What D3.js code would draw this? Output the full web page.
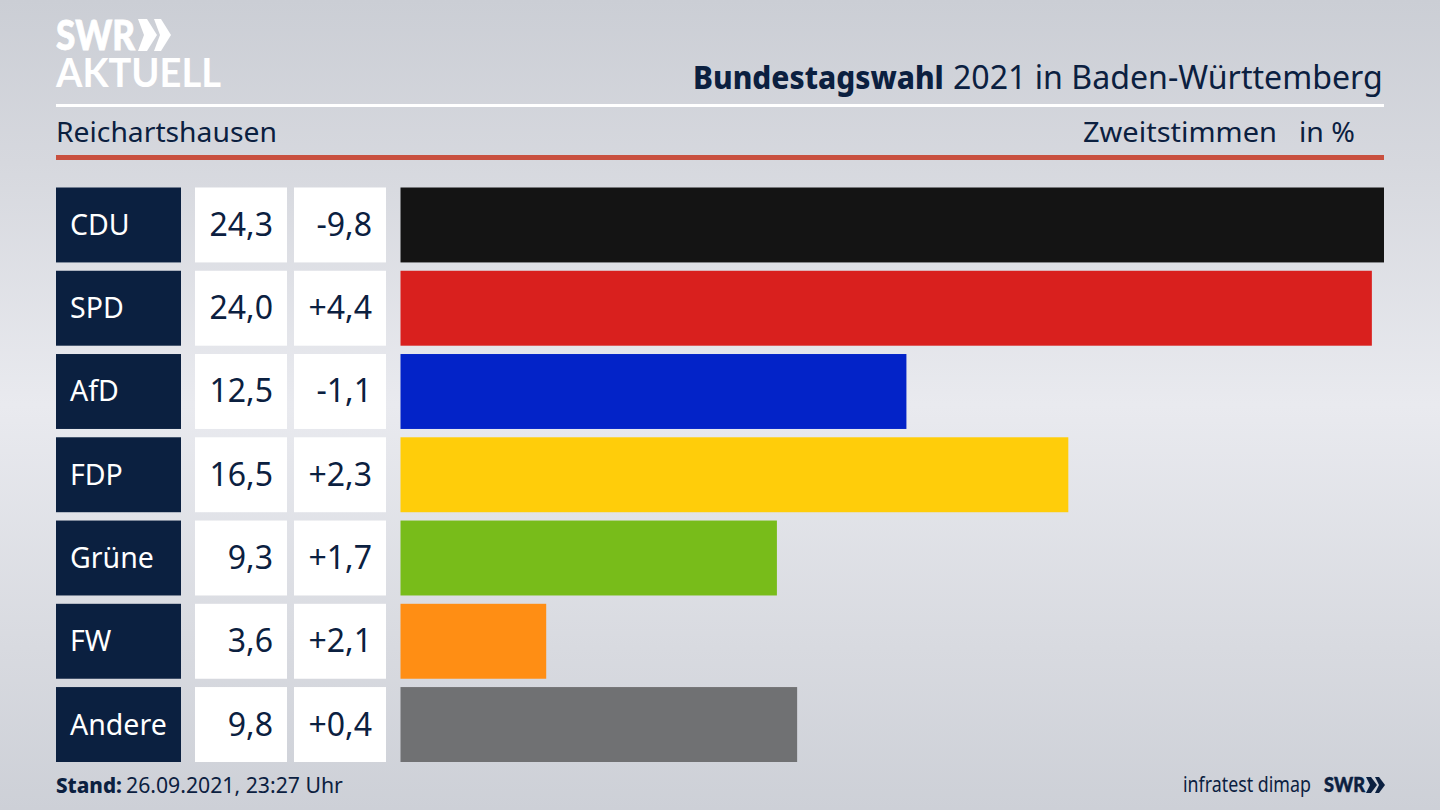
<!DOCTYPE html>
<html>
<head>
<meta charset="utf-8">
<script src="https://cdn.jsdelivr.net/npm/d3@7"></script>
<style>
  html, body { margin: 0; padding: 0; background: #d8dade; }
  svg { display: block; }
  text { font-family: "Noto Sans", sans-serif; }
</style>
</head>
<body>
<svg width="1440" height="810"></svg>
<script>
// DATA
const parties = ["CDU", "SPD", "AfD", "FDP", "Grüne", "FW", "Andere"];
const shares = [24.3, 24.0, 12.5, 16.5, 9.3, 3.6, 9.8];
const changes = ["-9,8", "+4,4", "-1,1", "+2,3", "+1,7", "+2,1", "+0,4"];
const colors = ["#141414", "#d9201e", "#0323c8", "#ffcd0a", "#78bc1a", "#ff8e14", "#707173"];

const svg = d3.select("svg");
const width = 1440;
const height = 810;
const navy = "#0b2040";
const formatShare = d => d.toFixed(1).replace(".", ",");

// CONSTANTS
const left = 56;
const right = 1384;
const barLeft = 400.5;

// SCALES
const xScale = d3.scaleLinear().domain([0, 24.3]).range([barLeft, right]);
const yScale = d3.scaleBand().domain(parties).range([187.5, 762]).paddingInner(0.1).paddingOuter(0);

// squeezes a text to the wanted width, the font here is wider than the original one
function fitText(str, x, y, w, size, fill, weight = 400, family = "Noto Sans") {
  const t = svg.append("text")
    .attr("font-size", size).attr("font-weight", weight).attr("fill", fill)
    .style("font-family", family).text(str);
  const k = w / t.node().getComputedTextLength();
  t.attr("transform", `translate(${x}, ${y}) scale(${k}, 1)`);
  return t;
}

// Background
const defs = svg.append("defs");
const vGrad = defs.append("linearGradient").attr("id", "bg").attr("x1", 0).attr("y1", 0).attr("x2", 0).attr("y2", 1);
[[0, "#cbced5"], [0.2, "#d6d8de"], [0.5, "#e9eaef"], [0.8, "#d8dae0"], [1, "#cdd0d7"]].forEach(s =>
  vGrad.append("stop").attr("offset", s[0]).attr("stop-color", s[1]));
svg.append("rect").attr("width", width).attr("height", height).attr("fill", "url(#bg)");

// Rules under the header
svg.append("rect").attr("x", left).attr("y", 104).attr("width", right - left).attr("height", 3).attr("fill", "#fff");
svg.append("rect").attr("x", left).attr("y", 155).attr("width", right - left).attr("height", 5).attr("fill", "#c9503f");

// Logo
fitText("SWR", 56, 50, 79, 41, "#fff", 900, "Lato").attr("stroke", "#fff").attr("stroke-width", 0.8);
svg.append("path").attr("fill", "#fff")
  .attr("d", "M138 19h9l10 16-10 16h-9l6-16z M154 19h7l10 16-10 16h-7l6-16z");
fitText("AKTUELL", 56, 87, 165, 40, "#fff", 700, "Lato");

// Header text
fitText("Bundestagswahl", 693, 89, 251, 32, navy, 800);
fitText("2021 in Baden-Württemberg", 953, 89, 430, 32, navy);
fitText("Reichartshausen", 56, 142, 221, 28, navy);
fitText("Zweitstimmen", 1083, 142, 194, 28, navy);
fitText("in %", 1299, 142, 56, 28, navy);

// Rows
const rows = svg.selectAll("g.row").data(parties).join("g").attr("class", "row")
  .attr("transform", d => `translate(0, ${yScale(d)})`);
const band = yScale.bandwidth();

rows.append("rect").attr("x", left).attr("width", 125).attr("height", band).attr("fill", navy);
rows.append("rect").attr("x", 195).attr("width", 92).attr("height", band).attr("fill", "#fff");
rows.append("rect").attr("x", 294).attr("width", 92).attr("height", band).attr("fill", "#fff");

rows.append("text").attr("x", 70).attr("y", band / 2 + 10).attr("font-size", 28.5).attr("fill", "#fff")
  .text(d => d);
rows.append("text").attr("x", 273).attr("y", band / 2 + 11).attr("font-size", 32).attr("fill", navy)
  .attr("text-anchor", "end").text((d, i) => formatShare(shares[i]));
rows.append("text").attr("x", 372).attr("y", band / 2 + 11).attr("font-size", 32).attr("fill", navy)
  .attr("text-anchor", "end").text((d, i) => changes[i]);

// Bars
rows.append("rect").attr("x", barLeft).attr("height", band)
  .attr("width", (d, i) => xScale(shares[i]) - barLeft)
  .attr("fill", (d, i) => colors[i]);

// Footer
fitText("Stand:", 56, 793, 66, 22, navy, 800);
fitText("26.09.2021, 23:27 Uhr", 126, 793, 217, 22, navy);
fitText("infratest dimap", 1183, 792, 128, 22, navy);
fitText("SWR", 1324, 792, 41, 21, navy, 900, "Lato").attr("stroke", navy).attr("stroke-width", 0.5);
svg.append("path").attr("fill", navy)
  .attr("d", "M1366 777h5l6 8-6 8h-5l4-8z M1375 777h4l6 8-6 8h-4l4-8z");
</script>
</body>
</html>
